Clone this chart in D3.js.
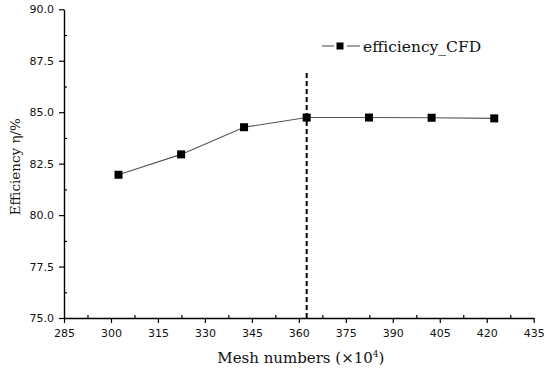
<!DOCTYPE html>
<html>
<head>
<meta charset="utf-8">
<script src="https://cdn.jsdelivr.net/npm/d3@7"></script>
<style>
  body { margin: 0; background: #fff; }
  svg { display: block; }
  .tick text { font-family: "DejaVu Sans", sans-serif; font-size: 11px; fill: #111; }
  .title { font-family: "DejaVu Serif", serif; fill: #111; }
</style>
</head>
<body>
<svg id="chart" width="550" height="370"></svg>
<script>
// chart data
const meshNumbers = [302.4, 322.4, 342.5, 362.5, 382.4, 402.4, 422.4];
const efficiency = [81.96, 82.95, 84.27, 84.74, 84.74, 84.73, 84.70];
const xTicks = [285, 300, 315, 330, 345, 360, 375, 390, 405, 420, 435];
const yTicks = [75.0, 77.5, 80.0, 82.5, 85.0, 87.5, 90.0];
const refLineX = 362.5;     // dashed marker of the chosen mesh
const refLineTop = 86.9;
const seriesName = "efficiency_CFD";

var margin = { top: 9.3, right: 16.3, bottom: 52, left: 64 };

var svg = d3.select("#chart");
var w = 550 - margin.left - margin.right;
var h = 370 - margin.top - margin.bottom;

var g = svg.append("g")
    .attr("transform", "translate(" + margin.left + "," + margin.top + ")");

var x = d3.scaleLinear().domain([285, 435]).range([0, w]);
var y = d3.scaleLinear().domain([75, 90]).range([h, 0]);

// minor ticks point inward, half way between majors
var xMinor = xTicks.slice(0, -1).map(d => d + 7.5);
var yMinor = yTicks.slice(0, -1).map(d => d + 1.25);

g.append("g")
    .attr("transform", "translate(0," + h + ")")
    .call(d3.axisBottom(x).tickValues(xMinor).tickSize(-3).tickSizeOuter(0).tickFormat(""))
    .call(a => a.select(".domain").remove())
    .selectAll("line").attr("stroke", "#000").attr("stroke-width", 1.2);

g.append("g")
    .call(d3.axisLeft(y).tickValues(yMinor).tickSize(-3).tickSizeOuter(0).tickFormat(""))
    .call(a => a.select(".domain").remove())
    .selectAll("line").attr("stroke", "#000").attr("stroke-width", 1.2);

var xAxis = g.append("g")
    .attr("transform", "translate(0," + h + ")")
    .call(d3.axisBottom(x).tickValues(xTicks).tickSize(5).tickSizeOuter(0).tickPadding(6).tickFormat(d3.format("d")));

var yAxis = g.append("g")
    .call(d3.axisLeft(y).tickValues(yTicks).tickSize(5).tickSizeOuter(0).tickPadding(5).tickFormat(d3.format(".1f")));

[xAxis, yAxis].forEach(a => {
    a.select(".domain").attr("stroke", "#000").attr("stroke-width", 1.4);
    a.selectAll("line").attr("stroke", "#000").attr("stroke-width", 1.2);
});

// axis titles
g.append("text")
    .attr("class", "title")
    .attr("x", w / 2 + 2)
    .attr("y", h + 45)
    .attr("text-anchor", "middle")
    .style("font-size", "15px")
    .html("Mesh numbers (×10<tspan dy='-6' font-size='9px'>4</tspan><tspan dy='6'>)</tspan>");

g.append("text")
    .attr("class", "title")
    .attr("transform", "rotate(-90)")
    .attr("x", -(y(82.35)))
    .attr("y", -margin.left + 20)
    .attr("text-anchor", "middle")
    .style("font-size", "13.5px")
    .text("Efficiency η/%");

// dashed reference line
g.append("line")
    .attr("x1", x(refLineX)).attr("x2", x(refLineX))
    .attr("y1", y(refLineTop)).attr("y2", y(75))
    .attr("stroke", "#000")
    .attr("stroke-width", 2)
    .attr("stroke-dasharray", "5,3");

var pts = meshNumbers.map((m, i) => ({ m: m, e: efficiency[i] }));

g.append("path")
    .datum(pts)
    .attr("fill", "none")
    .attr("stroke", "#555")
    .attr("stroke-width", 1.1)
    .attr("d", d3.line().x(d => x(d.m)).y(d => y(d.e)));

g.selectAll(".pt")
    .data(pts)
    .enter()
    .append("rect")
        .attr("class", "pt")
        .attr("x", d => x(d.m) - 4)
        .attr("y", d => y(d.e) - 4)
        .attr("width", 8)
        .attr("height", 8)
        .attr("fill", "#000");

// legend: short line, gap, marker, gap, short line
var lg = svg.append("g").attr("transform", "translate(322,46)");
lg.append("line").attr("x1", 0).attr("x2", 12).attr("stroke", "#555").attr("stroke-width", 1.1);
lg.append("line").attr("x1", 25).attr("x2", 38).attr("stroke", "#555").attr("stroke-width", 1.1);
lg.append("rect").attr("x", 14.5).attr("y", -3.5).attr("width", 7).attr("height", 7).attr("fill", "#000");
lg.append("text")
    .attr("class", "title")
    .attr("x", 41)
    .attr("y", 5.5)
    .style("font-size", "15.5px")
    .text(seriesName);
</script>
</body>
</html>
